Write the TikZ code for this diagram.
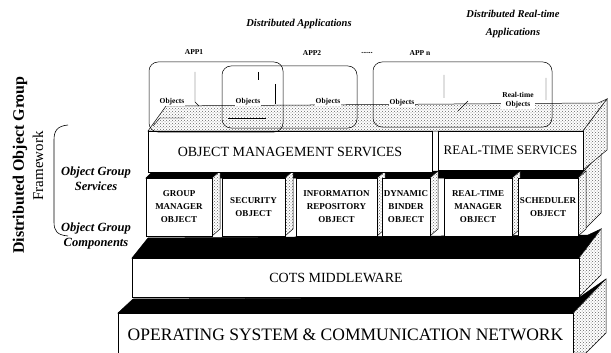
\documentclass[tikz,border=0pt]{standalone}
\usepackage{fontspec}
\setmainfont{Liberation Serif}
\usetikzlibrary{patterns}
\newcommand{\fsz}[2]{\fontsize{#1}{#2}\selectfont}

\begin{document}
\begin{tikzpicture}[x=1pt,y=-1pt,
    frontface/.style={draw,fill=white,line width=0.6pt,inner sep=1pt},
    topface/.style={draw,fill=black,line width=0.5pt},
    sideface/.style={draw,fill=white,line width=0.5pt,postaction={pattern=crosshatch dots,pattern color=black!60}},
    appbox/.style={draw,rounded corners=9pt,line width=0.5pt},
    complbl/.style={font=\fsz{9}{13}\bfseries,align=center},
    objlbl/.style={font=\fsz{7.5}{8.5}\bfseries,fill=white,inner sep=1pt,align=center},
    applbl/.style={font=\fsz{7.5}{9}\bfseries},
    grouplbl/.style={font=\fsz{12.5}{15}\bfseries\itshape,align=center}]
  \useasboundingbox (0,0) rectangle (611,353);

  % operating system layer
  \filldraw[topface] (118,313) -- (133,299) -- (580,297) -- (606,279) -- (573,313) -- cycle;
  \filldraw[sideface] (573,313) -- (606,279) -- (606,333) -- (586,353) -- (573,353) -- cycle;
  \node[frontface,minimum width=455pt,minimum height=44pt,font=\fsz{17.5}{20}] (os) at (345.5,335)
    {OPERATING SYSTEM \& COMMUNICATION NETWORK};

  % middleware layer
  \filldraw[topface] (132,258) -- (148,238) -- (588,235) -- (601,229) -- (579,258) -- cycle;
  \filldraw[sideface] (579,258) -- (601,229) -- (601,275) -- (579,297) -- cycle;
  \node[frontface,minimum width=447pt,minimum height=39pt] (cots) at (355.5,277.5) {};
  \node[font=\fsz{14}{16}] (cotstxt) at (336,278) {COTS MIDDLEWARE};

  % object group components
  \filldraw[topface] (146,178) -- (153,171) -- (584,171) -- (603,150) -- (578,178) -- cycle;
  \filldraw[sideface] (578,178) -- (601,152) -- (601,213) -- (578,236) -- cycle;
  \foreach \l/\r/\t/\n in {146/212/{GROUP\\MANAGER\\OBJECT}/gm,
                           222/285/{SECURITY\\OBJECT}/sec,
                           296/377/{INFORMATION\\REPOSITORY\\OBJECT}/info,
                           382/430/{DYNAMIC\\BINDER\\OBJECT}/dyn,
                           444/512/{REAL-TIME\\MANAGER\\OBJECT}/rtm,
                           518/578/{SCHEDULER\\OBJECT}/sch}{
    \filldraw[sideface] (\r,178) -- ++(8,-7) -- ++(0,58) -- (\r,236) -- cycle;
    \node[frontface,complbl,minimum width={\r-\l},minimum height=58pt] (c\n) at ({(\l+\r)/2},207) {\t};
  }

  % object group services
  \filldraw[sideface] (148,131) -- (166,106) -- (598,103) -- (607,99) -- (583,131) -- cycle;
  \filldraw[sideface] (583,131) -- (607,99) -- (607,150) -- (583,170) -- cycle;
  \node[frontface,minimum width=284pt,minimum height=41pt,font=\fsz{14}{16}] (oms) at (290,151.5)
    {OBJECT MANAGEMENT SERVICES};
  \node[frontface,minimum width=145pt,minimum height=39pt,font=\fsz{13}{15}] (rts) at (510.5,150.5)
    {REAL-TIME SERVICES};

  % applications
  \draw[appbox] (149,62) rectangle (283,132);
  \draw[appbox] (222,66) rectangle (357,128);
  \draw[appbox] (373,62) rectangle (552,127);
  \draw[line width=0.4pt] (195,72) -- (195,102) -- (199,106);
  \draw[line width=0.4pt] (153,126) -- (160,118) -- (184,118);
  \draw[line width=0.4pt] (258,72) -- (258,80) (275,84) -- (275,104) (228,118) -- (266,118);
  \draw[line width=0.4pt] (444,75) -- (444,98) (546,78) -- (546,100) (458,111) -- (468,101);
  \node[objlbl] (obj1) at (172,102) {Objects};
  \node[objlbl] (obj2) at (248,102) {Objects};
  \node[objlbl] (obj3) at (328,102) {Objects};
  \node[objlbl] (obj4) at (402,103) {Objects};
  \node[objlbl] (obj5) at (518,100) {Real-time\\Objects};
  \node[applbl] (app1) at (194,52) {APP1};
  \node[applbl] (app2) at (312,53) {APP2};
  \node[applbl] (appdots) at (367,53) {......};
  \node[applbl] (appn) at (420,53) {APP n};
  \node[font=\fsz{10.5}{18}\bfseries\itshape] (distapp) at (299,24) {Distributed Applications};
  \node[font=\fsz{10.5}{18}\bfseries\itshape,align=center] (distrt) at (513,24)
    {Distributed Real-time\\Applications};

  % framework labels
  \node[rotate=90,font=\fsz{16}{18}\bfseries] (fw1) at (20,165) {Distributed Object Group};
  \node[rotate=90,font=\fsz{15}{17}] (fw2) at (38,166) {Framework};
  \draw[line width=0.6pt] (68,125) .. controls (57,126) and (54,131) .. (54,140) -- (54,222)
    .. controls (54,231) and (57,235) .. (68,236);
  \node[grouplbl] (ogs) at (96,178.5) {Object Group\\Services};
  \node[grouplbl] (ogc) at (96,235.5) {Object Group\\Components};
\end{tikzpicture}
\end{document}
